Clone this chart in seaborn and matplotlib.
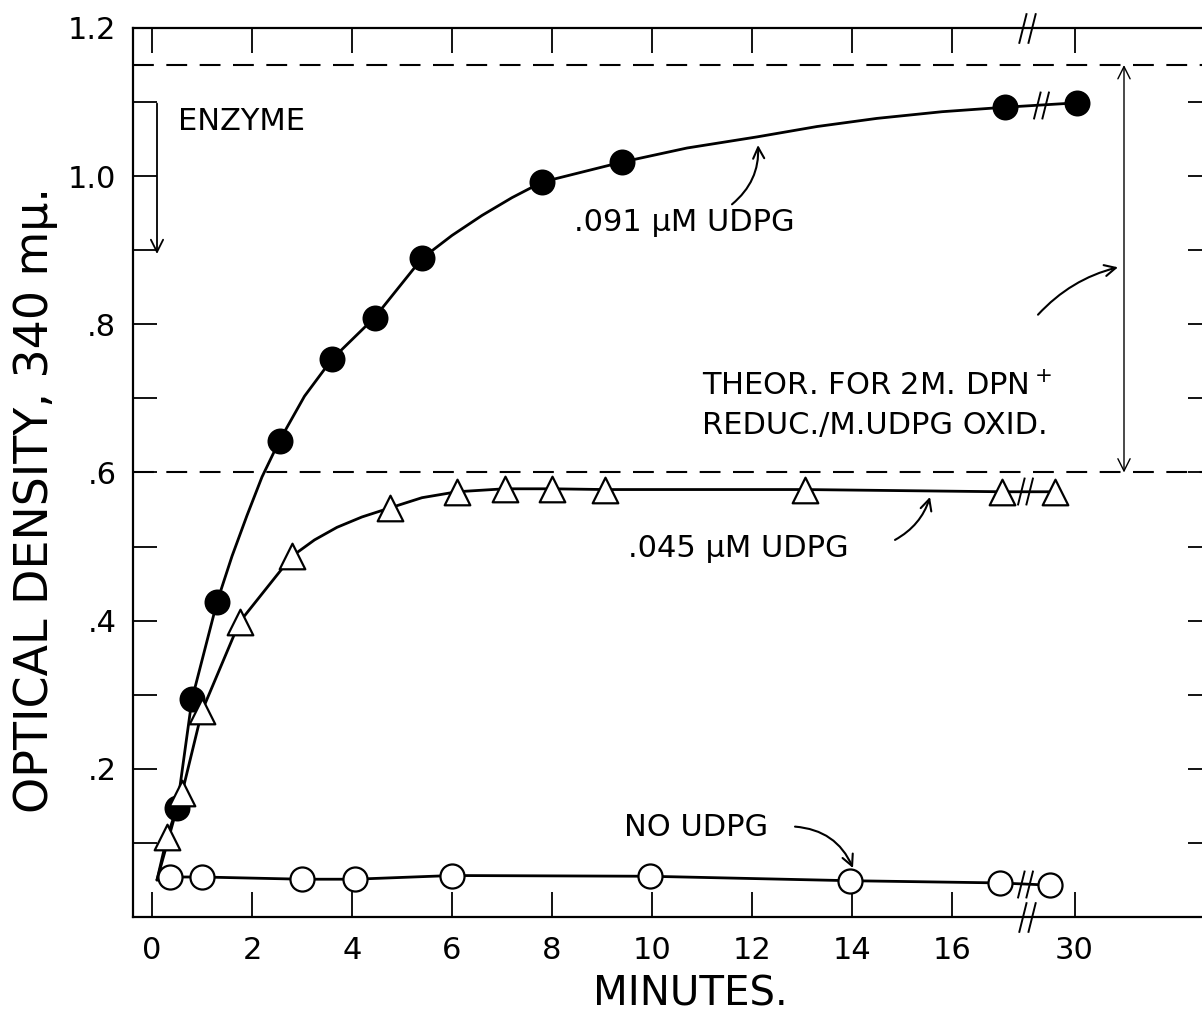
import numpy as np
import pandas as pd
import seaborn as sns
import matplotlib.pyplot as plt
from matplotlib.path import Path

# values: minutes vs optical density at 340 mμ
# points after the axis break are the ~30 minute readings
udpg091_min = [0.5, 0.8, 1.3, 2.55, 3.6, 4.45, 5.4, 7.8, 9.4, 17.05, 30.05]
udpg091_od = [0.147, 0.294, 0.425, 0.643, 0.753, 0.809, 0.889, 0.992, 1.019, 1.093, 1.099]

udpg045_min = [0.3, 0.6, 1.0, 1.75, 2.8, 4.75, 6.1, 7.05, 8.0, 9.05, 13.05, 17.0, 29.6]
udpg045_od = [0.108, 0.167, 0.278, 0.398, 0.487, 0.552, 0.574, 0.578, 0.578, 0.577, 0.577, 0.574, 0.574]

no_udpg_min = [0.35, 1.0, 3.0, 4.05, 6.0, 9.95, 13.95, 16.95, 29.5]
no_udpg_od = [0.054, 0.054, 0.051, 0.051, 0.056, 0.055, 0.049, 0.046, 0.043]

# hand-drawn curves (start of reaction plus extra points)
curve091_min = [0.1, 0.5, 0.8, 1.3, 1.6, 1.9, 2.2, 2.55, 3.05, 3.6, 4.45, 5.4, 6.0, 6.6,
                7.2, 7.8, 9.4, 10.7, 12.1, 13.3, 14.5, 15.8, 17.05, 30.05]
curve091_od = [0.05, 0.147, 0.294, 0.425, 0.487, 0.542, 0.594, 0.643, 0.703, 0.753, 0.809,
               0.889, 0.92, 0.947, 0.971, 0.992, 1.019, 1.038, 1.053, 1.067, 1.078, 1.087,
               1.093, 1.099]
curve045_min = [0.1, 0.3, 0.6, 1.0, 1.75, 2.8, 3.25, 3.7, 4.2, 4.75, 5.4, 6.1, 7.05, 8.0,
                9.05, 13.05, 17.0, 29.6]
curve045_od = [0.05, 0.108, 0.167, 0.278, 0.398, 0.487, 0.509, 0.526, 0.54, 0.552, 0.566,
               0.574, 0.578, 0.578, 0.577, 0.577, 0.574, 0.574]
curve_no_min = [0.1] + no_udpg_min
curve_no_od = [0.05] + no_udpg_od

theor_low, theor_high = 0.6, 1.15
x_ticks = [0, 2, 4, 6, 8, 10, 12, 14, 16, 30]
y_ticks = [0.1, 0.2, 0.3, 0.4, 0.5, 0.6, 0.7, 0.8, 0.9, 1.0, 1.1, 1.2]
y_labels = ['', '.2', '', '.4', '', '.6', '', '.8', '', '1.0', '', '1.2']

# broken x axis: 30 min is drawn just after 16 min
POS_30 = 18.45
BREAK_AT = 17.5


def to_axis(t):
    t = np.asarray(t, dtype=float)
    return np.where(t > 20, t - 30 + POS_30, t)


sns.set_style("ticks")
plt.rcParams['font.family'] = ['DejaVu Sans']
plt.rcParams['mathtext.default'] = 'regular'
for k in ['text.color', 'axes.labelcolor', 'xtick.color', 'ytick.color', 'axes.edgecolor']:
    plt.rcParams[k] = 'black'

fig = plt.figure(figsize=(12.02, 10.19), dpi=100)
ax = fig.add_axes([133 / 1202, 102 / 1019, (1212 - 133) / 1202, 889 / 1019])

# curves
for cx, cy in [(curve091_min, curve091_od), (curve045_min, curve045_od), (curve_no_min, curve_no_od)]:
    df = pd.DataFrame({'x': to_axis(cx), 'y': cy})
    sns.lineplot(data=df, x='x', y='y', ax=ax, color='black', lw=2.0, sort=False,
                 estimator=None, zorder=2)

# markers
pts = pd.concat([
    pd.DataFrame({'x': to_axis(udpg091_min), 'y': udpg091_od, 's': '.091'}),
    pd.DataFrame({'x': to_axis(udpg045_min), 'y': udpg045_od, 's': '.045'}),
    pd.DataFrame({'x': to_axis(no_udpg_min), 'y': no_udpg_od, 's': 'none'}),
])
sns.scatterplot(data=pts[pts.s == '.091'], x='x', y='y', ax=ax, marker='o', s=300,
                color='black', edgecolor='black', zorder=4, legend=False)
sns.scatterplot(data=pts[pts.s == '.045'], x='x', y='y', ax=ax, marker='^', s=340,
                facecolor='white', edgecolor='black', linewidth=1.6, zorder=4, legend=False)
sns.scatterplot(data=pts[pts.s == 'none'], x='x', y='y', ax=ax, marker='o', s=300,
                facecolor='white', edgecolor='black', linewidth=1.6, zorder=4, legend=False)

# theoretical limits
ax.axhline(theor_low, color='black', lw=1.5, dashes=(10, 6), zorder=1)
ax.axhline(theor_high, color='black', lw=1.5, dashes=(10, 6), zorder=1)
ax.annotate('', xy=(19.44, theor_high), xytext=(19.44, theor_low),
            arrowprops=dict(arrowstyle='<->', lw=1.0, color='black',
                            mutation_scale=22, shrinkA=0, shrinkB=0))

# break marks "//"
brk = Path([(-0.55, -1), (-0.05, 1), (0.05, -1), (0.55, 1)],
           [Path.MOVETO, Path.LINETO, Path.MOVETO, Path.LINETO])
ax.plot([BREAK_AT, BREAK_AT], [0, 1.2], linestyle='none', marker=brk, markersize=22,
        mew=1.4, color='black', clip_on=False, zorder=5)
ax.plot([17.78, 17.46, 17.46], [1.096, 0.575, 0.045], linestyle='none', marker=brk,
        markersize=20, mew=1.4, color='black', zorder=5)

# labels on the curves
txt = dict(fontsize=22, color='black', ha='left', va='center')
ax.text(0.52, 1.074, 'ENZYME', **txt)
ax.annotate('', xy=(0.1, 0.895), xytext=(0.1, 1.098),
            arrowprops=dict(arrowstyle='->', lw=1.3, color='black', mutation_scale=22,
                            shrinkA=0, shrinkB=0))
ax.text(8.44, 0.938, '.091 μM UDPG', **txt)
ax.annotate('', xy=(12.12, 1.042), xytext=(11.6, 0.962),
            arrowprops=dict(arrowstyle='->', lw=1.5, color='black', mutation_scale=20,
                            shrinkA=0, shrinkB=0, connectionstyle='arc3,rad=0.25'))
ax.text(11.0, 0.69, 'THEOR. FOR 2M. DPN$^+$\nREDUC./M.UDPG OXID.', linespacing=1.45, **txt)
ax.annotate('', xy=(19.32, 0.877), xytext=(17.72, 0.813),
            arrowprops=dict(arrowstyle='->', lw=1.5, color='black', mutation_scale=20,
                            shrinkA=0, shrinkB=0, connectionstyle='arc3,rad=-0.15'))
ax.text(9.52, 0.498, '.045 μM UDPG', **txt)
ax.annotate('', xy=(15.56, 0.567), xytext=(14.86, 0.509),
            arrowprops=dict(arrowstyle='->', lw=1.5, color='black', mutation_scale=20,
                            shrinkA=0, shrinkB=0, connectionstyle='arc3,rad=0.2'))
ax.text(9.44, 0.121, 'NO UDPG', **txt)
ax.annotate('', xy=(14.02, 0.066), xytext=(12.86, 0.122),
            arrowprops=dict(arrowstyle='->', lw=1.5, color='black', mutation_scale=20,
                            shrinkA=0, shrinkB=0, connectionstyle='arc3,rad=-0.3'))

# axes
ax.set_xlim(-0.38, (1212 - 152) / 50)
ax.set_ylim(0, 1.2)
ax.set_xticks(to_axis(x_ticks))
ax.set_xticklabels([str(t) for t in x_ticks])
ax.set_yticks(y_ticks)
ax.set_yticklabels(y_labels)
ax.tick_params(axis='x', direction='in', length=18, width=1.3, top=True,
               labelsize=22, pad=14)
ax.tick_params(axis='y', direction='in', length=17, width=1.3, right=True,
               labelsize=22, pad=12)
for s in ax.spines.values():
    s.set_linewidth(1.6)
    s.set_visible(True)

ax.set_xlabel('')
ax.set_ylabel('')
fig.text(690 / 1202, 1 - 995 / 1019, 'MINUTES.', fontsize=29, ha='center', va='center')
fig.text(36 / 1202, 1 - 500 / 1019, 'OPTICAL DENSITY, 340 mμ.', fontsize=33,
         rotation=90, ha='center', va='center')

fig.savefig('out.png', dpi=100)
